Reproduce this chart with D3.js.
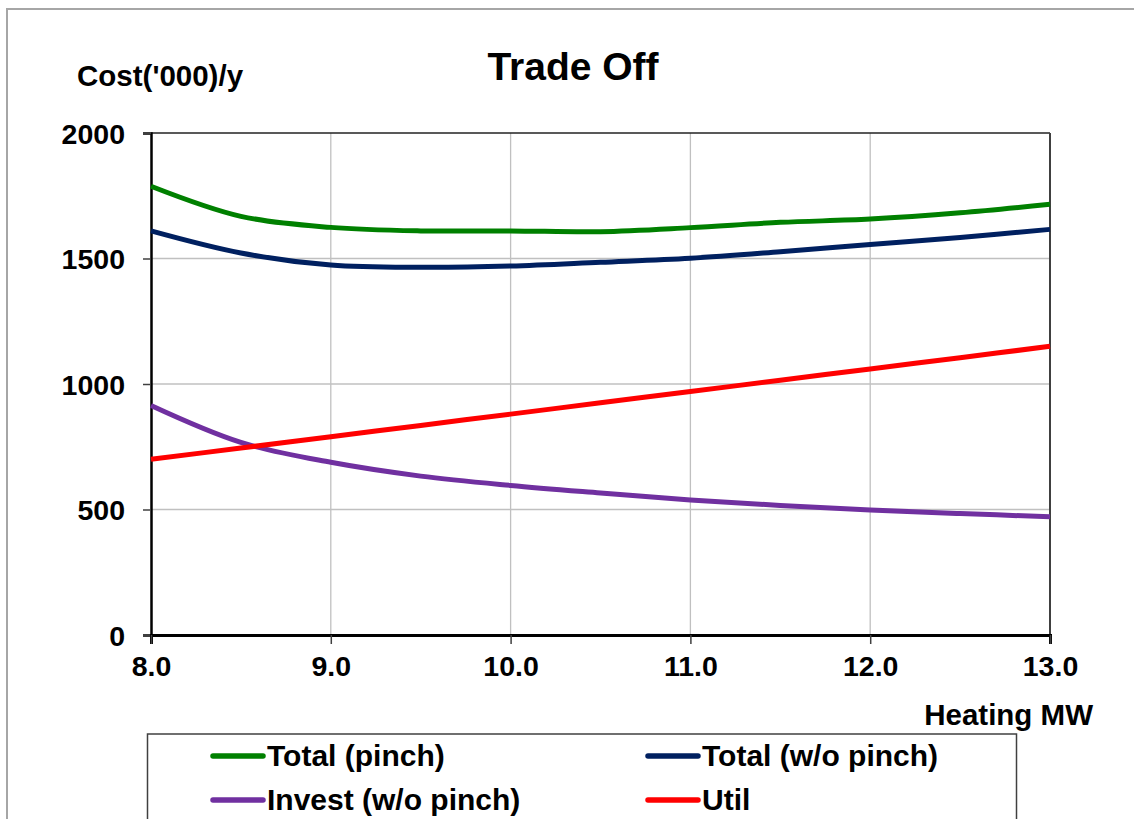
<!DOCTYPE html>
<html><head><meta charset="utf-8">
<script src="https://cdn.jsdelivr.net/npm/d3@7"></script>
<style>body{margin:0;background:#fff}svg{display:block}text{font-family:"Liberation Sans",Arial,sans-serif;font-weight:bold;fill:#000}</style>
</head><body><svg id="c" width="1134" height="819"></svg>
<script>
const heating = [8.0, 8.5, 9.0, 9.5, 10.0, 10.5, 11.0, 11.5, 12.0, 12.5, 13.0];
const totalPinch = [1788, 1668, 1624, 1610, 1610, 1607, 1623, 1644, 1657, 1682, 1716];
const totalNoPinch = [1610, 1522, 1474, 1465, 1470, 1485, 1501, 1527, 1556, 1584, 1616];
const investNoPinch = [914, 767, 688, 633, 596, 566, 538, 516, 498, 484, 471];
const util = [700, 745, 790, 835, 880, 925, 970, 1015, 1060, 1105, 1150];
const xTicks = [8, 9, 10, 11, 12, 13];
const yTicks = [0, 500, 1000, 1500, 2000];
const seriesNames = ["Total (pinch)", "Total (w/o pinch)", "Invest (w/o pinch)", "Util"];
const seriesColors = ["#008000", "#002060", "#7030A0", "#FF0000"];
const seriesData = [totalPinch, totalNoPinch, investNoPinch, util];

const svg = d3.select("#c");
const L = 151, R = 1050, T = 133, B = 635;
const x = d3.scaleLinear().domain([8, 13]).range([L, R]);
const y = d3.scaleLinear().domain([0, 2000]).range([B, T]);

// outer chart border
svg.append("rect").attr("x", 7).attr("y", 9).attr("width", 1300).attr("height", 1000)
  .attr("fill", "none").attr("stroke", "#a6a6a6").attr("stroke-width", 2);

// grid
svg.append("g").selectAll("line").data(xTicks.filter(d => d > 8 && d < 13)).join("line")
  .attr("x1", d => x(d)).attr("x2", d => x(d)).attr("y1", T).attr("y2", B)
  .attr("stroke", "#c0c0c0").attr("stroke-width", 1.3);
svg.append("g").selectAll("line").data(yTicks.filter(d => d > 0 && d < 2000)).join("line")
  .attr("x1", L).attr("x2", R).attr("y1", d => y(d)).attr("y2", d => y(d))
  .attr("stroke", "#c0c0c0").attr("stroke-width", 1.3);

// plot frame top/right
svg.append("line").attr("x1", L).attr("x2", R).attr("y1", T).attr("y2", T).attr("stroke", "#222").attr("stroke-width", 1.3);
svg.append("line").attr("x1", R).attr("x2", R).attr("y1", T).attr("y2", B).attr("stroke", "#404040").attr("stroke-width", 2);

// axes
const yAxis = d3.axisLeft(y).tickValues(yTicks).tickSize(8).tickPadding(18).tickFormat(d3.format("d"));
const gy = svg.append("g").attr("transform", `translate(${L},0)`).call(yAxis);
gy.select(".domain").attr("stroke", "#000").attr("stroke-width", 2.5);
gy.selectAll(".tick line").attr("stroke", "#404040").attr("stroke-width", 1.5);
gy.selectAll(".tick text").attr("font-size", 28.5).attr("font-family", "Liberation Sans, Arial, sans-serif").attr("font-weight", "bold").attr("fill", "#000").attr("dy", "0.36em");

const xAxis = d3.axisBottom(x).tickValues(xTicks).tickSize(9).tickPadding(12).tickFormat(d3.format(".1f"));
const gx = svg.append("g").attr("transform", `translate(0,${B})`).call(xAxis);
gx.select(".domain").attr("stroke", "#000").attr("stroke-width", 3);
gx.selectAll(".tick line").attr("stroke", "#404040").attr("stroke-width", 1.5);
gx.selectAll(".tick text").attr("font-size", 28.5).attr("font-family", "Liberation Sans, Arial, sans-serif").attr("font-weight", "bold").attr("fill", "#000");

// series
const line = d3.line().x((d, i) => x(heating[i])).y(d => y(d)).curve(d3.curveCatmullRom.alpha(0.5));
svg.append("g").selectAll("path").data(seriesData).join("path")
  .attr("d", d => line(d)).attr("fill", "none")
  .attr("stroke", (d, i) => seriesColors[i]).attr("stroke-width", 5).attr("stroke-linejoin", "round");

// titles
svg.append("text").attr("x", 573).attr("y", 80).attr("text-anchor", "middle").attr("font-size", 39).text("Trade Off");
svg.append("text").attr("x", 77).attr("y", 86).attr("font-size", 29.5).text("Cost('000)/y");
svg.append("text").attr("x", 1093).attr("y", 725).attr("text-anchor", "end").attr("font-size", 29.5).text("Heating MW");

// legend
svg.append("rect").attr("x", 147.5).attr("y", 734).attr("width", 869).attr("height", 200)
  .attr("fill", "#fff").attr("stroke", "#404040").attr("stroke-width", 1.5);
const legPos = [[213, 756], [648, 756], [213, 800], [648, 800]];
const lg = svg.append("g").selectAll("g").data(seriesNames).join("g")
  .attr("transform", (d, i) => `translate(${legPos[i][0]},${legPos[i][1]})`);
lg.append("line").attr("x1", 0).attr("x2", 50).attr("y1", 0).attr("y2", 0)
  .attr("stroke", (d, i) => seriesColors[i]).attr("stroke-width", 5.5).attr("stroke-linecap", "round");
lg.append("text").attr("x", 54).attr("y", 9.5).attr("font-size", 30).text(d => d);
</script></body></html>
